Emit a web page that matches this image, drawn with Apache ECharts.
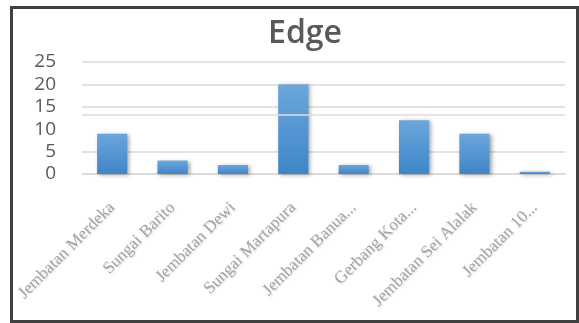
<!DOCTYPE html>
<html>
<head>
<meta charset="utf-8">
<script src="https://cdn.jsdelivr.net/npm/echarts@6/dist/echarts.min.js"></script>
<style>
  html, body { margin: 0; padding: 0; background: #fff; overflow: hidden; }
  #frame { position: absolute; left: 10px; top: 6px; width: 563px; height: 311px; border: 3px solid #404040; }
  #main { position: absolute; left: 0; top: 0; width: 579px; height: 323px; }
</style>
</head>
<body>
<div id="frame"></div>
<div id="main"></div>
<script>
// categories as printed under the bars (some were cut off in the source)
const categories = [
  'Jembatan Merdeka', 'Sungai Barito', 'Jembatan Dewi', 'Sungai Martapura',
  'Jembatan Banua...', 'Gerbang Kota...', 'Jembatan Sei Alalak', 'Jembatan 10...'
]
const edgeValues = [9, 3, 2, 20, 2, 12, 9, 0.5]
const yTicks = [0, 5, 10, 15, 20, 25]
// a stray rule crosses the plot in the source, where the 10 gridline should be
const strayRule = 13.2

const chart = echarts.init(document.getElementById('main'))

chart.setOption({
  animation: false,
  title: {
    text: 'Edge',
    left: 300,
    top: 13,
    textAlign: 'center',
    textStyle: { fontFamily: 'Open Sans', fontSize: 32, fontWeight: 600, color: '#595959' }
  },
  grid: { left: 82, right: 14, top: 62, bottom: 149, containLabel: false },
  xAxis: {
    type: 'category',
    data: categories,
    axisLine: { show: true, lineStyle: { color: '#d9d9d9', width: 1.5 } },
    axisTick: { show: false },
    axisLabel: {
      interval: 0,
      rotate: 45,
      margin: 31,
      fontFamily: 'Liberation Serif',
      fontSize: 17,
      color: '#a3a3a3',
      textShadowColor: 'rgba(0,0,0,0.15)',
      textShadowBlur: 2,
      textShadowOffsetX: 1,
      textShadowOffsetY: 1
    }
  },
  yAxis: {
    type: 'value',
    min: yTicks[0],
    max: yTicks[yTicks.length - 1],
    interval: 5,
    axisLine: { show: false },
    axisTick: { show: false },
    axisLabel: {
      margin: 26,
      fontFamily: 'Open Sans',
      fontSize: 19,
      color: '#595959'
    },
    splitLine: {
      lineStyle: {
        // first split line is the axis itself; hide the one for 10
        color: ['#d9d9d9', '#d9d9d9', 'rgba(0,0,0,0)', '#d9d9d9', '#d9d9d9', '#d9d9d9'],
        width: 1.5
      }
    }
  },
  series: [{
    type: 'bar',
    data: edgeValues,
    barWidth: '50%',
    itemStyle: {
      color: new echarts.graphic.LinearGradient(0, 0, 0, 1, [
        { offset: 0, color: '#6ca6dc' },
        { offset: 1, color: '#3e86c8' }
      ]),
      shadowColor: 'rgba(0,0,0,0.35)',
      shadowBlur: 4,
      shadowOffsetX: 2,
      shadowOffsetY: 1
    },
    markLine: {
      silent: true,
      symbol: 'none',
      label: { show: false },
      lineStyle: { color: '#dcdcdc', type: 'solid', width: 1.5 },
      data: [{ yAxis: strayRule }]
    }
  }]
})
</script>
</body>
</html>
